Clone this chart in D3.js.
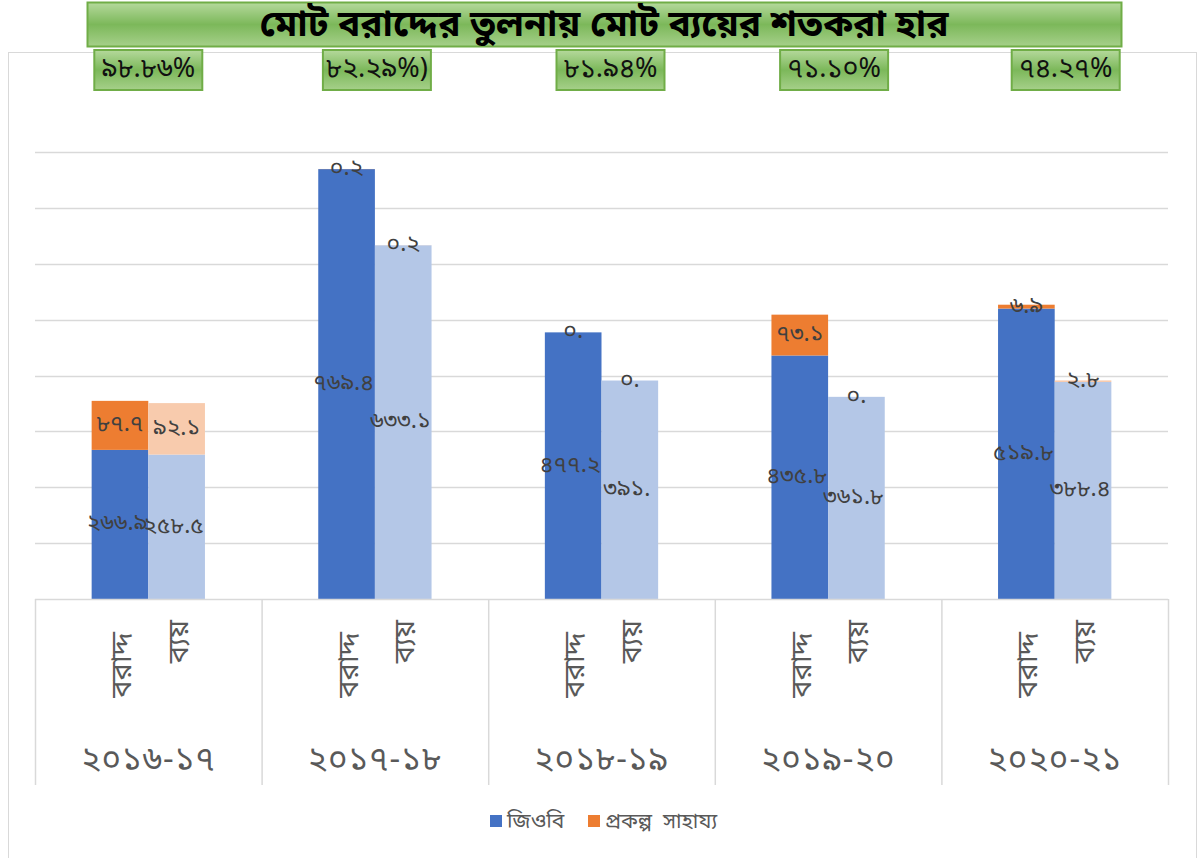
<!DOCTYPE html>
<html><head><meta charset="utf-8">
<script src="https://cdn.jsdelivr.net/npm/d3@7"></script>
<style>
html,body{margin:0;padding:0;background:#fff;}
svg{display:block;font-family:"Noto Sans Bengali","Noto Sans","Noto Sans CJK SC",sans-serif;}
</style></head><body>
<svg id="c" width="1199" height="858"></svg>
<script>
const years = ["২০১৬-১৭","২০১৭-১৮","২০১৮-১৯","২০১৯-২০","২০২০-২১"];
const subs = ["বরাদ্দ","ব্যয়"];
const seriesNames = ["জিওবি","প্রকল্প  সাহায্য"];
// allocation (বরাদ্দ)
const allocGob = [266.9, 769.4, 477.2, 435.8, 519.8];
const allocProj = [87.7, 0.2, 0, 73.1, 6.9];
// expenditure (ব্যয়)
const spendGob = [258.5, 633.1, 391, 361.8, 388.4];
const spendProj = [92.1, 0.2, 0, 0, 2.8];
// label text as shown
const allocGobLbl = ["২৬৬.৯","৭৬৯.৪","৪৭৭.২","৪৩৫.৮","৫১৯.৮"];
const allocProjLbl = ["৮৭.৭","০.২","০.","৭৩.১","৬.৯"];
const spendGobLbl = ["২৫৮.৫","৬৩৩.১","৩৯১.","৩৬১.৮","৩৮৮.৪"];
const spendProjLbl = ["৯২.১","০.২","০.","০.","২.৮"];
const pctLabels = ["৯৮.৮৬%","৮২.২৯%)","৮১.৯৪%","৭১.১০%","৭৪.২৭%"];
const title = "মোট বরাদ্দের তুলনায় মোট ব্যয়ের শতকরা হার";
const yTicks = [0,100,200,300,400,500,600,700,800];
// layout: small horizontal shifts of the percent boxes from the category centres
const pctShift = [0, 2, 9, 6, 11];

const svg = d3.select("#c");
const defs = svg.append("defs");
const g1 = defs.append("linearGradient").attr("id","gr").attr("x1",0).attr("y1",0).attr("x2",0).attr("y2",1);
g1.append("stop").attr("offset","0").attr("stop-color","#B5D99C");
g1.append("stop").attr("offset","0.5").attr("stop-color","#7CB85A");
g1.append("stop").attr("offset","1").attr("stop-color","#A6D08A");

// chart frame
svg.append("rect").attr("x",8.5).attr("y",52.5).attr("width",1188).attr("height",810)
  .attr("fill","none").attr("stroke","#D9D9D9");

const x0 = d3.scaleBand().domain(years).range([35,1168]).padding(0);
const x1 = d3.scaleBand().domain(subs).range([0,x0.bandwidth()]).paddingInner(0).paddingOuter(1);
const y = d3.scaleLinear().domain([0,800]).range([599,152]);

// gridlines
svg.append("g").selectAll("line").data(yTicks.slice(1)).join("line")
  .attr("x1",35).attr("x2",1168).attr("y1",d=>Math.round(y(d))+0.5).attr("y2",d=>Math.round(y(d))+0.5)
  .attr("stroke","#D9D9D9").attr("stroke-width",1.5);

const colors = {
  "বরাদ্দ":["#4472C4","#ED7D31"],
  "ব্যয়":["#B4C7E7","#F8CBAD"]
};
const rows = [];
years.forEach((yr,i)=>{
  rows.push({yr, sub:"বরাদ্দ", gob:allocGob[i], proj:allocProj[i], gl:allocGobLbl[i], pl:allocProjLbl[i]});
  rows.push({yr, sub:"ব্যয়", gob:spendGob[i], proj:spendProj[i], gl:spendGobLbl[i], pl:spendProjLbl[i]});
});
const bx = d=>x0(d.yr)+x1(d.sub);
const bars = svg.append("g");
bars.selectAll("rect.g").data(rows).join("rect")
  .attr("x",bx).attr("width",x1.bandwidth())
  .attr("y",d=>y(d.gob)).attr("height",d=>y(0)-y(d.gob))
  .attr("fill",d=>colors[d.sub][0]);
bars.selectAll("rect.p").data(rows).join("rect")
  .attr("x",bx).attr("width",x1.bandwidth())
  .attr("y",d=>y(d.gob+d.proj)).attr("height",d=>y(d.gob)-y(d.gob+d.proj))
  .attr("fill",d=>colors[d.sub][1]);

// baseline
svg.append("line").attr("x1",35).attr("x2",1168).attr("y1",599.5).attr("y2",599.5).attr("stroke","#D9D9D9").attr("stroke-width",1.5);

// data labels
const lbl = svg.append("g").attr("font-size",23).attr("fill","#404040").attr("text-anchor","middle").attr("dominant-baseline","central");
lbl.selectAll("text.g").data(rows).join("text")
  .attr("x",d=>bx(d)+x1.bandwidth()/2-3).attr("y",d=>y(d.gob/2)).text(d=>d.gl);
lbl.selectAll("text.p").data(rows).join("text")
  .attr("x",d=>bx(d)+x1.bandwidth()/2).attr("y",d=>y(d.gob+d.proj/2)).text(d=>d.pl);

// category axis dividers
const divs = years.map(yr=>x0(yr)).concat([x0.range()[1]]);
svg.append("g").selectAll("line").data(divs).join("line")
  .attr("x1",d=>d+0.5).attr("x2",d=>d+0.5).attr("y1",599).attr("y2",785)
  .attr("stroke","#D9D9D9").attr("stroke-width",1.5);

// rotated sub labels
svg.append("g").selectAll("text").data(rows).join("text")
  .attr("transform",d=>`translate(${bx(d)+x1.bandwidth()/2+11},${d.sub==="বরাদ্দ"?632:620}) rotate(-90)`)
  .attr("text-anchor","end").attr("font-size",29).attr("fill","#595959").text(d=>d.sub);

// year labels
svg.append("g").selectAll("text").data(years).join("text")
  .attr("x",d=>x0(d)+x0.bandwidth()/2).attr("y",770).attr("text-anchor","middle")
  .attr("font-size",33).attr("letter-spacing",1).attr("fill","#595959").text(d=>d);

// legend
const leg = svg.append("g").attr("transform","translate(490,815)");
const legX = [0, 98];
seriesNames.forEach((s,i)=>{
  leg.append("rect").attr("x",legX[i]).attr("y",0).attr("width",12).attr("height",12).attr("fill",colors["বরাদ্দ"][i]);
  leg.append("text").attr("x",legX[i]+17).attr("y",13).attr("font-size",21).attr("fill","#595959")
    .style("white-space","pre").text(s);
});

// title box
svg.append("rect").attr("x",87.5).attr("y",2.5).attr("width",1034).attr("height",44)
  .attr("fill","url(#gr)").attr("stroke","#70AD47").attr("stroke-width",2);
svg.append("text").attr("x",604).attr("y",26).attr("text-anchor","middle").attr("dominant-baseline","central")
  .attr("font-size",37).attr("font-weight","bold").attr("fill","#000").text(title);

// percent boxes
const pg = svg.append("g").selectAll("g").data(years).join("g")
  .attr("transform",(d,i)=>`translate(${x0(d)+x0.bandwidth()/2+pctShift[i]},70)`);
pg.append("rect").attr("x",-54).attr("y",-20).attr("width",108).attr("height",40)
  .attr("fill","url(#gr)").attr("stroke","#70AD47").attr("stroke-width",2);
pg.append("text").attr("text-anchor","middle").attr("dominant-baseline","central")
  .attr("font-size",27).attr("fill","#111").text((d,i)=>pctLabels[i]);
</script></body></html>
